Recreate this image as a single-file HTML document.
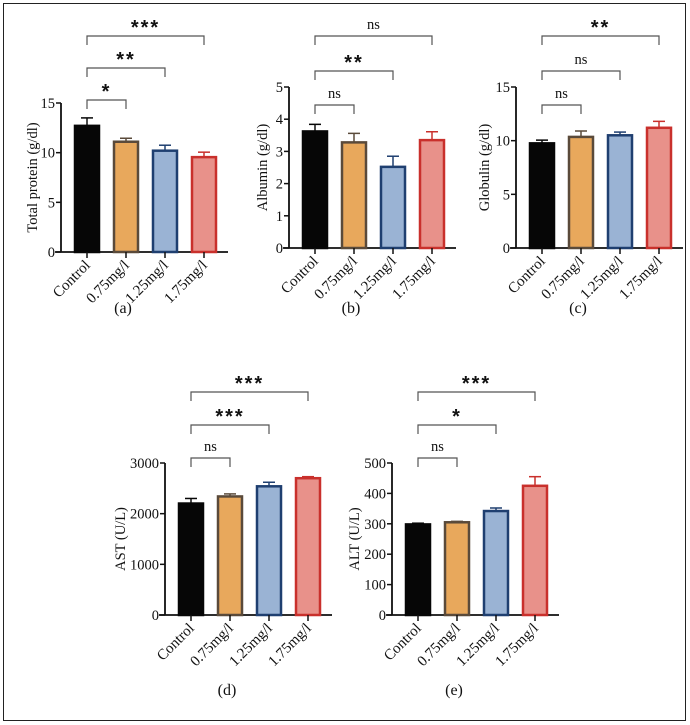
<!DOCTYPE html>
<html><head><meta charset="utf-8"><style>
body{margin:0;background:#fff;width:690px;height:725px;overflow:hidden}
svg{display:block;font-family:"Liberation Serif",serif}
</style></head><body>
<svg id="fig" width="690" height="725" viewBox="0 0 690 725">
<rect x="3.5" y="3.5" width="682" height="717" fill="none" stroke="#222" stroke-width="1"/>
</svg>
<script>
const categories = ["Control","0.75mg/l","1.25mg/l","1.75mg/l"];
const tpValues = [12.7, 11.1, 10.2, 9.55];
const tpErr = [0.8, 0.35, 0.55, 0.5];
const tpTicks = [0,5,10,15];
const albValues = [3.62, 3.28, 2.52, 3.35];
const albErr = [0.22, 0.28, 0.33, 0.26];
const albTicks = [0,1,2,3,4,5];
const gloValues = [9.75, 10.35, 10.5, 11.2];
const gloErr = [0.3, 0.55, 0.3, 0.6];
const gloTicks = [0,5,10,15];
const astValues = [2200, 2340, 2540, 2700];
const astErr = [100, 50, 80, 30];
const astTicks = [0,1000,2000,3000];
const altValues = [298, 305, 342, 425];
const altErr = [4, 3, 10, 30];
const altTicks = [0,100,200,300,400,500];
const tpSig = ["*","**","***"];
const albSig = ["ns","**","ns"];
const gloSig = ["ns","ns","**"];
const astSig = ["ns","***","***"];
const altSig = ["ns","*","***"];

const fills=["#060606","#e8a85c","#9ab3d4","#e8918a"];
const strokes=["#060606","#5a4a3a","#1f3f70","#c9302c"];
const NS="http://www.w3.org/2000/svg";
const svg=document.getElementById('fig');
function mk(tag,attrs,parent){const e=document.createElementNS(NS,tag);for(const k in attrs)e.setAttribute(k,attrs[k]);(parent||svg).appendChild(e);return e;}

function panel(key,o,values,errs,ticks,sig,title,letter){
  const g=mk('g',{});
  
  
  const max=ticks[ticks.length-1];
  const y=v=>o.y0-(v/max)*(o.y0-o.yTop);
  const x=i=>o.ax+26+i*39;
  const ya=mk('line',{x1:o.ax,y1:o.yTop,x2:o.ax,y2:o.y0,stroke:'#111','stroke-width':1.8},g);
  
  
  const xa=mk('line',{x1:o.ax-6,y1:o.y0,x2:o.ax+167,y2:o.y0,stroke:'#111','stroke-width':1.8},g);
  
  
  ticks.forEach(t=>{
    mk('line',{x1:o.ax-5,y1:y(t),x2:o.ax,y2:y(t),stroke:'#111','stroke-width':1.5},g);
    const tx=mk('text',{x:o.ax-6,y:y(t)+5,'text-anchor':'end','font-size':14.5,fill:'#111'},g);
    tx.textContent=t;
    
    
  });
  const yt=mk('text',{x:0,y:0,'text-anchor':'middle','font-size':14.5,fill:'#111',transform:`translate(${o.ax-o.tOff},${(o.yTop+o.y0)/2}) rotate(-90)`},g);
  yt.textContent=title;
  
  
  values.forEach((v,i)=>{
    const cx=x(i);
    const el=mk('line',{x1:cx,y1:y(v),x2:cx,y2:y(v+errs[i]),stroke:strokes[i]==='#060606'?'#111':strokes[i],'stroke-width':1.5},g);
    
    
    mk('line',{x1:cx-6,y1:y(v+errs[i]),x2:cx+6,y2:y(v+errs[i]),stroke:strokes[i],'stroke-width':1.5},g);
    const b=mk('rect',{x:cx-12,y:y(v),width:24,height:o.y0-y(v),fill:fills[i],stroke:strokes[i],'stroke-width':2.5},g);
    
    
    mk('line',{x1:cx,y1:o.y0,x2:cx,y2:o.y0+6,stroke:'#111','stroke-width':1.5},g);
    const lb=mk('text',{x:0,y:0,'text-anchor':'end','font-size':15,fill:'#111',transform:`translate(${cx+4},${o.y0+14}) rotate(-45)`},g);
    lb.textContent=categories[i];
    
    
  });
  sig.forEach((s,k)=>{
    const by=o.b[k], x1=x(0), x2=x(k+1);
    const br=mk('path',{d:`M${x1},${by+9}V${by}H${x2}V${by+9}`,fill:'none',stroke:'#555','stroke-width':1.2},g);
    
    
    const st=mk('text',{x:(x1+x2)/2,y:s==='ns'?by-7:by-2,'text-anchor':'middle','font-size':s==='ns'?14.5:20,'font-weight':s==='ns'?'normal':'bold',fill:'#111','font-family':s==='ns'?'Liberation Serif':'Liberation Sans','letter-spacing':s==='ns'?0:2},g);
    st.textContent=s;
    
    
  });
  const lt=mk('text',{x:o.ax+62,y:o.ly,'text-anchor':'middle','font-size':16,fill:'#111'},g);
  lt.textContent=letter;
  
  
}
panel('total-protein',{ax:61,yTop:103,y0:252,b:[100,68,36],ly:313,tOff:24},tpValues,tpErr,tpTicks,tpSig,'Total protein (g/dl)','(a)');
panel('albumin',{ax:289,yTop:87,y0:248,b:[105,71,36],ly:313,tOff:22},albValues,albErr,albTicks,albSig,'Albumin (g/dl)','(b)');
panel('globulin',{ax:516,yTop:87,y0:248,b:[105,71,36],ly:313,tOff:27},gloValues,gloErr,gloTicks,gloSig,'Globulin (g/dl)','(c)');
panel('ast',{ax:165,yTop:463,y0:615,b:[458,425,392],ly:695,tOff:40},astValues,astErr,astTicks,astSig,'AST (U/L)','(d)');
panel('alt',{ax:392,yTop:463,y0:615,b:[458,425,392],ly:695,tOff:33},altValues,altErr,altTicks,altSig,'ALT (U/L)','(e)');
</script>
</body></html>
